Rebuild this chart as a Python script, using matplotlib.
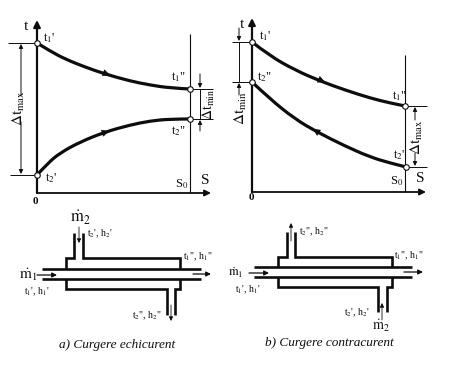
import matplotlib
matplotlib.use("Agg")
import matplotlib.pyplot as plt
from matplotlib.path import Path
from matplotlib.patches import PathPatch

plt.rcParams['font.family'] = ['Liberation Serif', 'DejaVu Serif']
plt.rcParams['mathtext.fontset'] = 'stix'

# curves (pixel coordinates of the scan)
a_hot_x = [37, 50, 65, 85, 105, 130, 150, 170, 190]
a_hot_y = [43, 51, 59, 67, 74, 81, 85, 88, 89]
a_cold_x = [37, 48, 60, 80, 105, 130, 150, 170, 190]
a_cold_y = [175, 163, 153, 142, 132, 125, 121, 119, 119]
b_hot_x = [252, 270, 295, 320, 345, 370, 390, 405]
b_hot_y = [42, 56, 70, 81, 90, 98, 103, 106]
b_cold_x = [252, 270, 295, 317, 345, 370, 390, 406]
b_cold_y = [82, 99, 119, 132, 146, 157, 163, 167]

captions = ["a) Curgere echicurent", "b) Curgere contracurent"]

fig = plt.figure(figsize=(4.5, 3.67), dpi=100)
ax = fig.add_axes([0, 0, 1, 1])
ax.set_xlim(0, 450)
ax.set_ylim(367, 0)
ax.axis('off')
K = '#0d0d0d'


def line(xs, ys, lw=1.0):
    ax.plot(xs, ys, color=K, lw=lw, solid_capstyle='butt', solid_joinstyle='miter', zorder=2)


def smooth(xs, ys, lw=2.3):
    # read points serve as control points of a quadratic curve
    verts = [(xs[0], ys[0])]
    for i in range(1, len(xs) - 1):
        verts.append((xs[i], ys[i]))
        if i < len(xs) - 2:
            verts.append(((xs[i] + xs[i + 1]) / 2, (ys[i] + ys[i + 1]) / 2))
        else:
            verts.append((xs[-1], ys[-1]))
    codes = [Path.MOVETO] + [Path.CURVE3] * (len(verts) - 1)
    ax.add_patch(PathPatch(Path(verts, codes), fc='none', ec=K, lw=lw, capstyle='round', zorder=3))


def arrow(x0, y0, x1, y1, lw=0.7, ms=6):
    ax.annotate('', xy=(x1, y1), xytext=(x0, y0),
                arrowprops=dict(arrowstyle='-|>', lw=lw, color=K, mutation_scale=ms,
                                shrinkA=0, shrinkB=0), zorder=5)


def txt(x, y, s, size=7, rot=0, **kw):
    ax.text(x, y, s, fontsize=size, rotation=rot, ha='center', va='center', color=K, **kw)


# left chart axes
arrow(37, 193, 37, 20, lw=1.6, ms=10)
arrow(37, 193, 211, 193, lw=1.3, ms=9)
line([190, 190], [34, 193], 0.8)
smooth(a_hot_x, a_hot_y)
smooth(a_cold_x, a_cold_y)
arrow(98, 71, 110, 75, lw=0.5, ms=11)
arrow(97, 135, 109, 131, lw=0.5, ms=11)
ax.plot([37, 37, 190, 190], [43, 175, 89, 119], 'o', ms=4, mfc='white', mec=K, mew=0.8, zorder=6)

line([8, 37], [43, 43], 0.7)
line([10, 37], [175, 175], 0.7)
arrow(21, 96, 21, 44)
arrow(21, 122, 21, 174)
txt(19, 108, r'$\Delta\mathrm{t_{max}}$', 11, 90)
line([190, 213], [89, 89], 0.7)
line([190, 213], [119, 119], 0.7)
line([200, 200], [89, 119], 0.7)
arrow(200, 74, 200, 88)
arrow(200, 131, 200, 120)
txt(209, 104, r'$\Delta\mathrm{t_{min}}$', 10, 90)
txt(26, 26, 't', 11)
txt(49, 38, "t$_1$'", 9)
txt(178, 77, 't$_1$"', 9)
txt(178, 131, 't$_2$"', 9)
txt(51, 178, "t$_2$'", 9)
txt(182, 184, 'S$_0$', 9)
txt(205, 180, 'S', 11)
txt(35, 201, '0', 8, fontweight='bold')

# right chart axes
arrow(252, 192, 252, 18, lw=1.6, ms=10)
arrow(252, 192, 426, 192, lw=1.3, ms=9)
line([405, 405], [55, 192], 0.8)
smooth(b_hot_x, b_hot_y)
smooth(b_cold_x, b_cold_y)
arrow(313, 77, 325, 82, lw=0.5, ms=11)
arrow(324, 136, 313, 129, lw=0.5, ms=11)
ax.plot([252, 252, 405, 406], [42, 82, 106, 167], 'o', ms=4, mfc='white', mec=K, mew=0.8, zorder=6)

line([232, 252], [42, 42], 0.7)
line([232, 252], [82, 82], 0.7)
line([239, 239], [42, 82], 0.7)
arrow(239, 28, 239, 41)
arrow(239, 95, 239, 83)
txt(241, 108, r'$\Delta\mathrm{t_{min}}$', 11, 90)
line([405, 427], [106, 106], 0.7)
line([405, 427], [167, 167], 0.7)
arrow(415, 120, 415, 107)
arrow(415, 153, 415, 166)
txt(417, 137, r'$\Delta\mathrm{t_{max}}$', 11, 90)
txt(242, 24, 't', 11)
txt(265, 36, "t$_1$'", 9)
txt(264, 77, 't$_2$"', 9)
txt(399, 96, 't$_1$"', 9)
txt(399, 155, "t$_2$'", 9)
txt(397, 181, 'S$_0$', 9)
txt(420, 178, 'S', 11)
txt(251, 198, '0', 8, fontweight='bold')

# left exchanger
W = 1.9
line([42, 201], [269, 269], W)
line([42, 201], [279, 279], W)
line([66, 66, 74, 74], [269, 258, 258, 233], W)
line([83, 83, 180, 180], [233, 258, 258, 269], W)
line([66, 66, 167, 167], [279, 289, 289, 315], W)
line([175, 175, 180, 180], [315, 289, 289, 279], W)
arrow(79, 227, 79, 243, lw=0.6, ms=6)
arrow(171, 305, 171, 321, lw=0.6, ms=6)
arrow(37, 275, 57, 275, lw=0.9, ms=7)
arrow(193, 274, 211, 274, lw=0.9, ms=7)
txt(28, 275, r'$\dot{\mathrm{m}}_1$', 11)
txt(80, 218, r'$\dot{\mathrm{m}}_2$', 12)
txt(100, 234, "t$_2$', h$_2$'", 7)
txt(198, 257, 't$_1$", h$_1$"', 7)
txt(37, 292, "t$_1$', h$_1$'", 7)
txt(147, 316, 't$_2$", h$_2$"', 7)
txt(117, 345, captions[0], 9.5, style='italic')

# right exchanger
line([254, 412], [267, 267], W)
line([254, 412], [277, 277], W)
line([278, 278, 287, 287], [267, 257, 257, 232], W)
line([295, 295, 392, 392], [232, 257, 257, 267], W)
line([278, 278, 378, 378], [277, 287, 287, 312], W)
line([387, 387, 392, 392], [312, 287, 287, 277], W)
arrow(291, 241, 291, 223, lw=0.6, ms=6)
arrow(382, 320, 382, 303, lw=0.6, ms=6)
arrow(249, 273, 269, 273, lw=0.9, ms=7)
arrow(404, 272, 423, 272, lw=0.9, ms=7)
txt(236, 273, r'$\dot{\mathrm{m}}_1$', 9)
txt(381, 326, r'$\dot{\mathrm{m}}_2$', 10)
txt(314, 232, 't$_2$", h$_2$"', 7)
txt(409, 256, 't$_1$", h$_1$"', 7)
txt(248, 290, "t$_1$', h$_1$'", 7)
txt(357, 313, "t$_2$', h$_2$'", 7)
txt(329, 343, captions[1], 9.5, style='italic')

fig.savefig('out.png', dpi=100)
